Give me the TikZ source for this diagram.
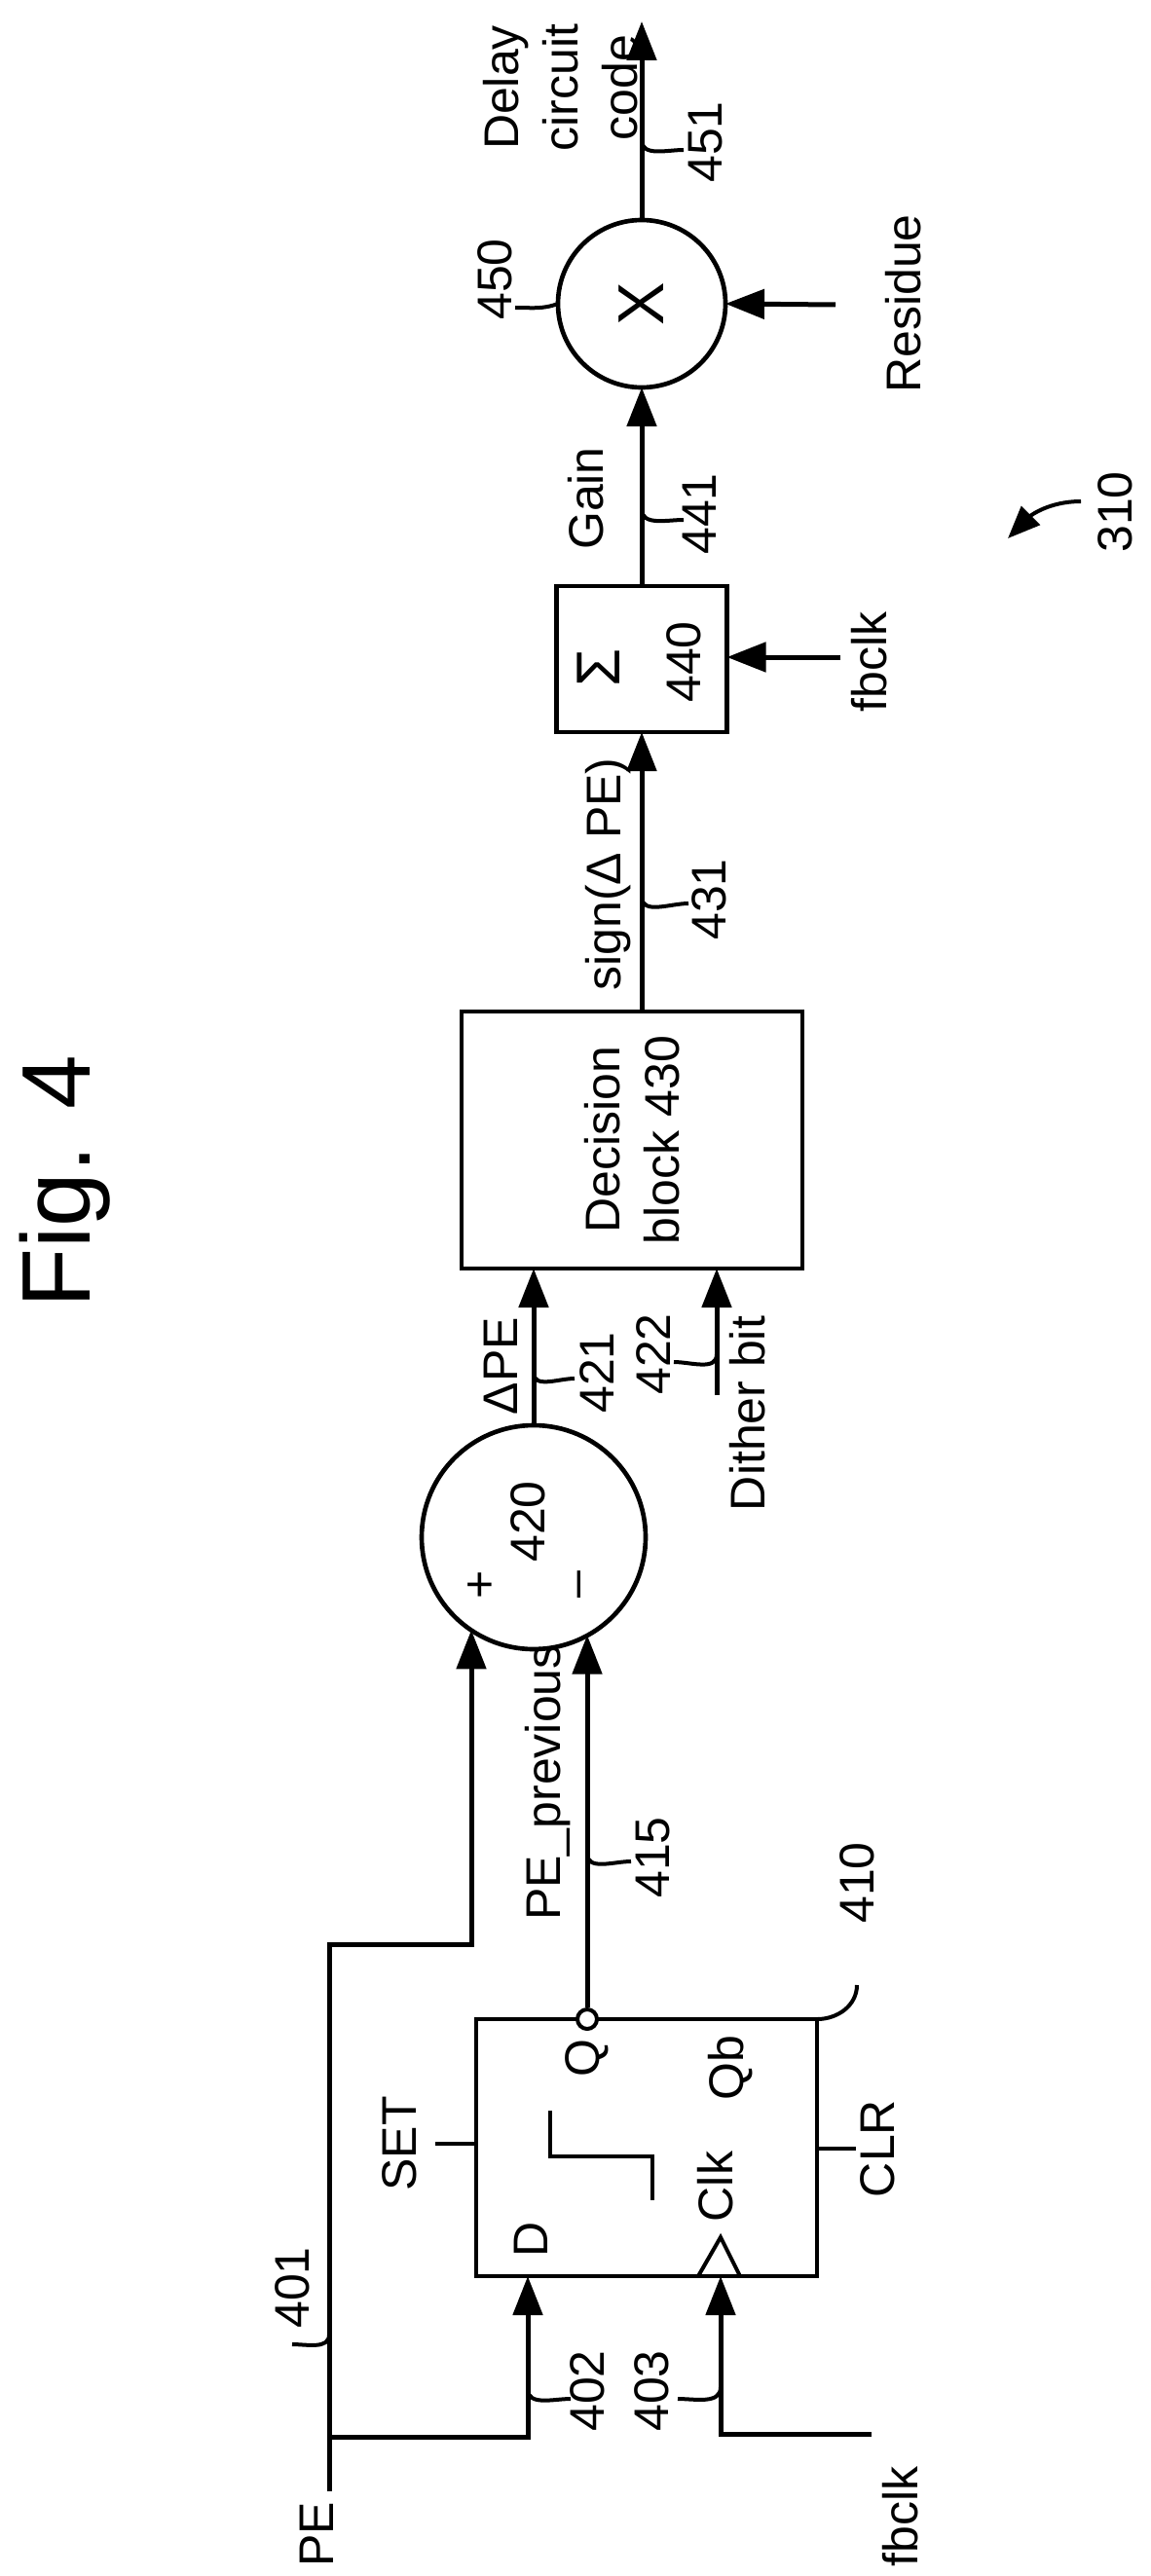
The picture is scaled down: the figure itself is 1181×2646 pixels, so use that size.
\documentclass[tikz,border=0pt]{standalone}
\usepackage{fontspec}
\setmainfont{Liberation Sans}
\usetikzlibrary{arrows.meta,positioning}
\tikzset{
  wire/.style={line width=1.5pt},
  sig/.style={wire,-{Triangle[length=12pt,width=9pt]}},
  lead/.style={line width=1.2pt},
  lbl/.style={rotate=90,inner sep=0pt,font=\fontsize{15}{18.3}\selectfont},
  blk/.style={draw,line width=1.4pt,inner sep=0pt,outer sep=0pt},
}
\begin{document}
\begin{tikzpicture}[x=0.3pt,y=-0.3pt]
\path[use as bounding box] (0,0) rectangle (1181,2646);

% blocks
\node[blk,minimum width=105pt,minimum height=79.2pt] (ff) at (664,2206) {};
\node[blk,circle,minimum size=69pt] (sum) at (548,1579) {};
\node[blk,minimum width=105pt,minimum height=79.2pt] (dec) at (649,1171) {};
\node[blk,minimum width=52.5pt,minimum height=45pt] (acc) at (659,677) {};
\node[blk,circle,minimum size=51.6pt] (mul) at (659,312) {};

% texts
\node[lbl,font=\fontsize{30}{36}\selectfont] (fig) at (67,1214) {Fig. 4};
\node[lbl] (pe) at (325,2603) {PE};
\node[lbl] (fb1) at (925,2585) {fbclk};
\node[lbl] (set) at (410,2202) {SET};
\node[lbl] (clr) at (901,2207) {CLR};
\node[lbl] (dd) at (545,2300) {D};
\node[lbl] (qq) at (603,2114) {Q};
\node[lbl] (qb) at (750,2124) {Qb};
\node[lbl] (clk) at (735,2246) {Clk};
\node[lbl] (n401) at (300,2350) {401};
\node[lbl] (n402) at (603,2456) {402};
\node[lbl] (n403) at (669,2456) {403};
\node[lbl] (n410) at (880,1934) {410};
\node[lbl] (pprev) at (563,1831) {PE\_previous};
\node[lbl] (n415) at (671,1908) {415};
\node[lbl] (plus) at (495,1628) {+};
\node[lbl] (n420) at (542,1563) {420};
\node[lbl] (minus) at (600,1628) {--};
\node[lbl] (dpe) at (514,1403) {ΔPE};
\node[lbl] (n421) at (613,1410) {421};
\node[lbl] (n422) at (671,1391) {422};
\node[lbl] (dith) at (768,1452) {Dither bit};
\node[lbl,align=center] (dectxt) at (dec) {Decision\\block 430};
\node[lbl] (sgn) at (625,898) {sign(Δ PE)};
\node[lbl] (n431) at (728,924) {431};
\node[lbl,font=\fontsize{19}{22}\selectfont] (sigma) at (615,686) {Σ};
\node[lbl] (n440) at (702,680) {440};
\node[lbl] (fb2) at (893,680) {fbclk};
\node[lbl] (gain) at (602,512) {Gain};
\node[lbl] (n441) at (718,528) {441};
\node[lbl,font=\fontsize{20}{24}\selectfont] (xx) at (mul) {X};
\node[lbl] (n450) at (508,287) {450};
\node[lbl] (res) at (928,312) {Residue};
\node[lbl,align=center] (code) at (576,90) {Delay\\circuit\\code};
\node[lbl] (n451) at (725,146) {451};
\node[lbl] (n310) at (1145,526) {310};

% flip-flop details
\node[circle,draw,line width=1.2pt,inner sep=0pt,minimum size=6pt,fill=white] (qo) at (603,2074) {};
\draw[lead] (717,2338) -- (740,2298) -- (760,2338);
\draw[lead] (565,2168) -- (565,2215) -- (670,2215) -- (670,2260);
\draw[lead] (ff.west |- set) -- ++(-42,0);
\draw[lead] (ff.east |- clr) -- ++(40,0);

% connectors
\coordinate (pein) at (338,2559);
\coordinate (pebr) at (338,2503);
\coordinate (jog) at (484,1997);
\coordinate (fbin) at (895,2500);
\coordinate (dithin) at (736,1433);
\coordinate (fb2in) at (863,675);
\coordinate (resin) at (858,313);
\coordinate (out) at (659,22);
\draw[sig] (pein) |- (jog) -- (jog |- sum.236);
\draw[sig] (pebr) -| (ff.south -| 542,0);
\draw[sig] (fbin) -| (ff.south -| 740,0);
\draw[sig] (qo.north) -- (qo |- sum.299);
\draw[sig] (sum.north) -- (sum.north |- dec.south);
\draw[sig] (dithin) -- (dithin |- dec.south);
\draw[sig] (acc.south |- dec.north) -- (acc.south);
\draw[sig] (fb2in) -- (acc.east |- fb2in);
\draw[sig] (acc.north) -- (mul.south);
\draw[sig] (resin) -- (mul.east);
\draw[sig] (mul.north) -- (out);

% leaders
\draw[lead] (338,2398) to[out=-90,in=0] (300,2408);
\draw[lead] (542,2454) to[out=-90,in=180] (586,2464);
\draw[lead] (740,2452) to[out=-90,in=0] (696,2464);
\draw[lead] (ff.north east) to[out=0,in=-90] (880,2039);
\draw[lead] (603,1904) to[out=-90,in=180] (648,1912);
\draw[lead] (548,1410) to[out=-90,in=180] (590,1416);
\draw[lead] (736,1391) to[out=-90,in=0] (692,1399);
\draw[lead] (659,921) to[out=-90,in=180] (707,928);
\draw[lead] (659,523) to[out=-90,in=180] (702,534);
\draw[lead] (659,144) to[out=-90,in=180] (702,154);
\draw[lead] (mul.west) to[out=200,in=0] (529,316);
\draw[lead,-{Triangle[length=10pt,width=8pt]}] (1110,515) to[out=180,in=45] (1035,553);
\end{tikzpicture}
\end{document}
